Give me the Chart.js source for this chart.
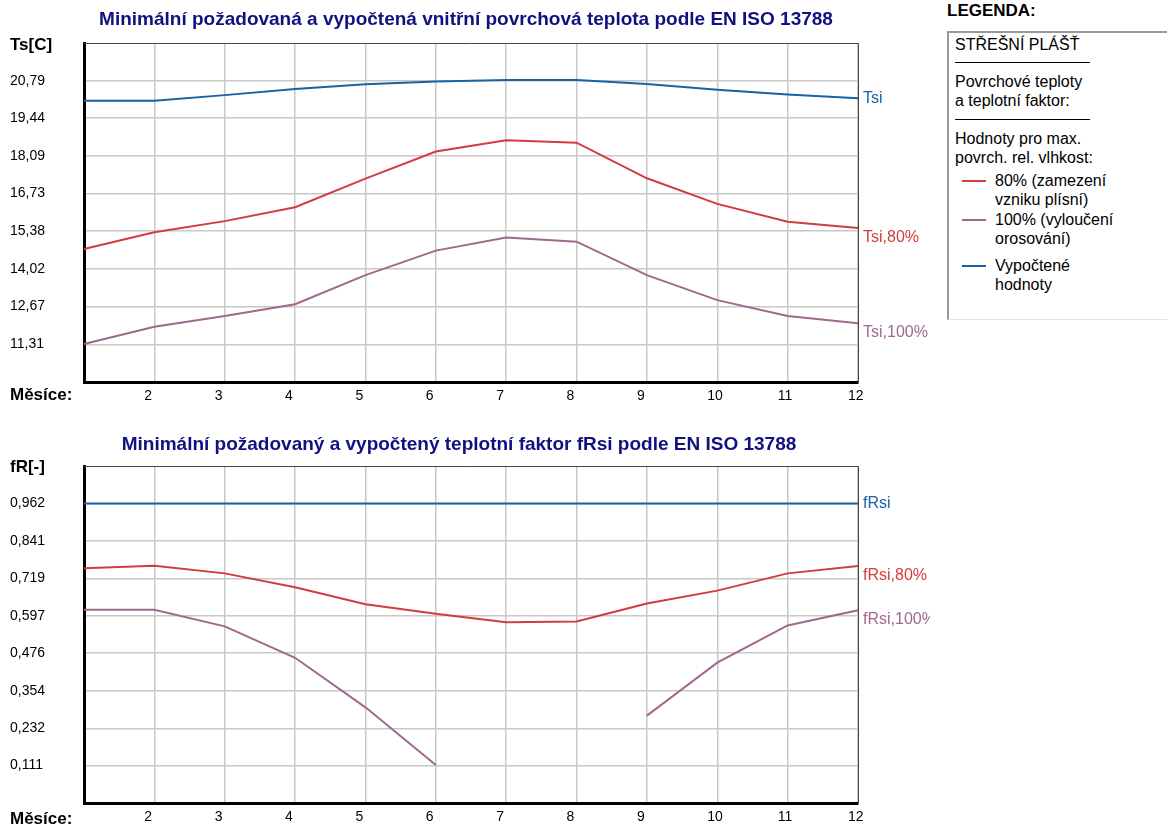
<!DOCTYPE html>
<html>
<head>
<meta charset="utf-8">
<script src="https://cdn.jsdelivr.net/npm/chart.js@4/dist/chart.umd.min.js"></script>
<style>
  html, body { margin: 0; padding: 0; background: #fff; }
  body { width: 1167px; height: 827px; position: relative; overflow: hidden;
         font-family: "Liberation Sans", Arial, sans-serif; color: #000; }
  canvas { position: absolute; left: 0; }
  #cTemp { top: 0; }
  #cFactor { top: 422px; }
  .lg { position: absolute; font-size: 16px; line-height: 19px; white-space: nowrap; }
  .lgTitle { position: absolute; left: 947px; top: 1px; font-weight: bold; font-size: 17px; line-height: 20px; }
  .lgBox { position: absolute; left: 947px; top: 31px; width: 240px; height: 289px; box-sizing: border-box;
           border-left: 2px solid #9a9a9a; border-top: 2px solid #9a9a9a; border-bottom: 1px solid #e4e4e4; }
  .rule { position: absolute; left: 955px; width: 135px; height: 0; border-top: 1px solid #000; }
  .swatch { position: absolute; left: 962px; width: 24px; height: 2px; }
</style>
</head>
<body>
<canvas id="cTemp" width="930" height="422"></canvas>
<canvas id="cFactor" width="930" height="405"></canvas>

<div class="lgTitle">LEGENDA:</div>
<div class="lgBox"></div>
<div class="lg" style="left:955px;top:35px">STŘEŠNÍ PLÁŠŤ</div>
<div class="rule" style="top:62px"></div>
<div class="lg" style="left:955px;top:72px">Povrchové teploty<br>a teplotní faktor:</div>
<div class="rule" style="top:119px"></div>
<div class="lg" style="left:955px;top:129px">Hodnoty pro max.<br>povrch. rel. vlhkost:</div>
<div class="swatch" id="sw80" style="top:180px"></div>
<div class="lg" style="left:995px;top:171px">80% (zamezení<br>vzniku plísní)</div>
<div class="swatch" id="sw100" style="top:219px"></div>
<div class="lg" style="left:995px;top:210px">100% (vyloučení<br>orosování)</div>
<div class="swatch" id="swCalc" style="top:265px"></div>
<div class="lg" style="left:995px;top:256px">Vypočtené<br>hodnoty</div>

<script>
// Months on the horizontal axis
const months = ['1', '2', '3', '4', '5', '6', '7', '8', '9', '10', '11', '12'];

// Inner surface temperature Ts [°C]
const tsCalc = [20.07, 20.07, 20.27, 20.49, 20.66, 20.76, 20.81, 20.81, 20.67, 20.46, 20.29, 20.16];
const ts80   = [14.74, 15.34, 15.74, 16.24, 17.27, 18.24, 18.65, 18.56, 17.28, 16.36, 15.72, 15.49];
const ts100  = [11.32, 11.94, 12.33, 12.75, 13.80, 14.68, 15.15, 15.00, 13.80, 12.90, 12.33, 12.07];
const tsTicks = [11.31, 12.67, 14.02, 15.38, 16.73, 18.09, 19.44, 20.79];
const tsMin = 9.956, tsMax = 22.144;

// Temperature factor fRsi [-]
const frCalc = [0.962, 0.962, 0.962, 0.962, 0.962, 0.962, 0.962, 0.962, 0.962, 0.962, 0.962, 0.962];
const fr80   = [0.752, 0.760, 0.735, 0.690, 0.635, 0.604, 0.576, 0.579, 0.637, 0.679, 0.735, 0.759];
const fr100  = [0.617, 0.617, 0.563, 0.461, 0.300, 0.113, null, null, 0.273, 0.445, 0.566, 0.615];
const frTicks = [0.111, 0.232, 0.354, 0.476, 0.597, 0.719, 0.841, 0.962];
const frMin = -0.0106, frMax = 1.0836;

const COL_CALC = '#1a62a3';
const COL_80 = '#d23c3c';
const COL_100 = '#a0688e';
const FONT = "'Liberation Sans', Arial, sans-serif";

document.getElementById('sw80').style.background = COL_80;
document.getElementById('sw100').style.background = COL_100;
document.getElementById('swCalc').style.background = COL_CALC;

// Titles, axis captions, frame and series names at the right end of each line
const decorations = {
  id: 'decorations',
  afterDraw(chart, args, o) {
    const { ctx, chartArea: a } = chart;
    ctx.save();
    // top and right frame
    ctx.strokeStyle = '#444';
    ctx.lineWidth = 1;
    ctx.beginPath();
    ctx.moveTo(a.left, a.top + 0.5);
    ctx.lineTo(a.right + 0.5, a.top + 0.5);
    ctx.lineTo(a.right + 0.5, a.bottom);
    ctx.stroke();

    ctx.textBaseline = 'middle';
    ctx.textAlign = 'center';
    ctx.fillStyle = '#101080';
    ctx.font = 'bold 19px ' + FONT;
    ctx.fillText(o.title, o.titleX, o.titleY);

    ctx.textAlign = 'left';
    ctx.fillStyle = '#000';
    ctx.font = 'bold 17px ' + FONT;
    ctx.fillText(o.yCaption, 10, o.yCaptionY);
    ctx.fillText('Měsíce:', 10, o.xCaptionY);

    ctx.font = '16px ' + FONT;
    chart.data.datasets.forEach((ds, i) => {
      const pts = chart.getDatasetMeta(i).data;
      let last = null;
      for (let k = pts.length - 1; k >= 0; k--) {
        if (ds.data[k] !== null) { last = pts[k]; break; }
      }
      if (!last) return;
      ctx.fillStyle = ds.borderColor;
      ctx.fillText(ds.label, a.right + 5, last.y + ds.endLabelDy);
    });
    ctx.restore();
  }
};

function buildChart(canvasId, cfg) {
  const dataset = (label, data, color, dy) => ({
    label, data, borderColor: color, backgroundColor: color, borderWidth: 2,
    pointRadius: 0, tension: 0, spanGaps: false, endLabelDy: dy
  });
  return new Chart(document.getElementById(canvasId), {
    type: 'line',
    data: {
      labels: months,
      datasets: [
        dataset(cfg.names[0], cfg.calc, COL_CALC, 0),
        dataset(cfg.names[1], cfg.s80, COL_80, 10),
        dataset(cfg.names[2], cfg.s100, COL_100, 9)
      ]
    },
    options: {
      responsive: false,
      animation: false,
      devicePixelRatio: 1,
      layout: { padding: { left: 10, right: 72, top: cfg.padTop, bottom: 0 } },
      plugins: {
        legend: { display: false },
        tooltip: { enabled: false },
        decorations: {
          title: cfg.title, titleX: cfg.titleX, titleY: cfg.titleY,
          yCaption: cfg.yCaption, yCaptionY: cfg.yCaptionY, xCaptionY: cfg.xCaptionY
        }
      },
      scales: {
        x: {
          type: 'category',
          offset: false,
          afterFit: s => { s.height = cfg.xAxisH; },
          ticks: {
            autoSkip: false, maxRotation: 0, padding: 6, color: '#000',
            align: 'start', labelOffset: -10,
            font: { family: FONT, size: 14 },
            callback: (v, i) => (i === 0 ? '' : months[i])
          },
          grid: { color: '#c8c8c8', lineWidth: 1.5, drawTicks: false },
          border: { color: '#000', width: 3 }
        },
        y: {
          min: cfg.min, max: cfg.max,
          afterBuildTicks: s => { s.ticks = cfg.ticks.map(v => ({ value: v })); },
          afterFit: s => { s.width = 74; },
          ticks: {
            crossAlign: 'far', padding: 0, color: '#000',
            font: { family: FONT, size: 14 },
            callback: v => v.toFixed(cfg.decimals).replace('.', ',')
          },
          grid: { color: '#c8c8c8', lineWidth: 1.5, drawTicks: false },
          border: { color: '#000', width: 3 }
        }
      }
    },
    plugins: [decorations]
  });
}

buildChart('cTemp', {
  names: ['Tsi', 'Tsi,80%', 'Tsi,100%'],
  calc: tsCalc, s80: ts80, s100: ts100,
  ticks: tsTicks, min: tsMin, max: tsMax, decimals: 2,
  padTop: 43, xAxisH: 40,
  title: 'Minimální požadovaná a vypočtená vnitřní povrchová teplota podle EN ISO 13788',
  titleX: 466, titleY: 20, yCaption: 'Ts[C]', yCaptionY: 45, xCaptionY: 395
});

buildChart('cFactor', {
  names: ['fRsi', 'fRsi,80%', 'fRsi,100%'],
  calc: frCalc, s80: fr80, s100: fr100,
  ticks: frTicks, min: frMin, max: frMax, decimals: 3,
  padTop: 44, xAxisH: 24,
  title: 'Minimální požadovaný a vypočtený teplotní faktor fRsi podle EN ISO 13788',
  titleX: 459, titleY: 23, yCaption: 'fR[-]', yCaptionY: 45, xCaptionY: 397
});
</script>
</body>
</html>
